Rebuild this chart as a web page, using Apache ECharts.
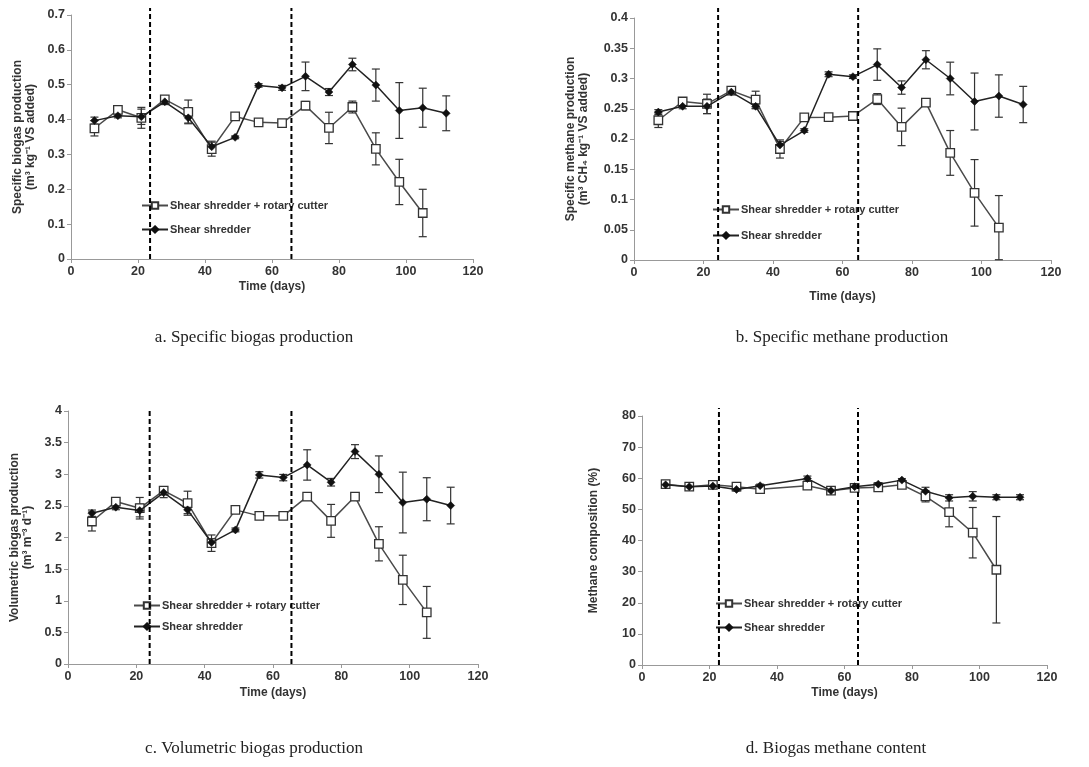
<!DOCTYPE html>
<html><head><meta charset="utf-8">
<script src="https://cdn.jsdelivr.net/npm/echarts@6/dist/echarts.min.js"></script>
<style>html,body{margin:0;padding:0;background:#fff}#c{width:1089px;height:767px}</style>
</head><body><div id="c"></div>
<script>
// ---------- data ----------
const days = [7,14,21,28,35,42,49,56,63,70,77,84,91,98,105,112];
const seriesNames = ['Shear shredder + rotary cutter', 'Shear shredder'];
const xTicks = {min:0, max:120, interval:20};

// a. Specific biogas production (m3 kg-1 VS added)
const aRotary    = [0.375,0.428,0.405,0.458,0.422,0.315,0.409,0.392,0.390,0.440,0.376,0.436,0.316,0.221,0.132,null];
const aRotaryErr = [0.022,0.006,0.030,0.008,0.034,0.020,0.005,0.005,0.005,0.012,0.045,0.017,0.046,0.065,0.068,null];
const aShear     = [0.397,0.411,0.408,0.451,0.405,0.322,0.349,0.498,0.491,0.524,0.479,0.558,0.499,0.426,0.434,0.418];
const aShearErr  = [0.010,0.006,0.022,0.008,0.015,0.016,0.004,0.005,0.007,0.041,0.010,0.018,0.046,0.080,0.056,0.050];

// b. Specific methane production (m3 CH4 kg-1 VS added)
const bRotary    = [0.231,0.262,0.258,0.280,0.265,0.1835,0.2357,0.236,0.238,0.266,0.220,0.260,0.177,0.111,0.0535,null];
const bRotaryErr = [0.012,0.004,0.016,0.004,0.014,0.015,0.003,0.003,0.003,0.009,0.031,0.004,0.037,0.055,0.053,null];
const bShear     = [0.2445,0.254,0.254,0.2775,0.254,0.190,0.214,0.307,0.303,0.323,0.285,0.331,0.300,0.262,0.271,0.257];
const bShearErr  = [0.004,0.004,0.012,0.004,0.004,0.006,0.003,0.004,0.003,0.026,0.011,0.015,0.027,0.047,0.035,0.030];

// c. Volumetric biogas production (m3 m-3 d-1)
const cRotary    = [2.253,2.568,2.463,2.742,2.542,1.910,2.437,2.342,2.342,2.647,2.263,2.647,1.900,1.330,0.816,null];
const cRotaryErr = [0.15,0.04,0.17,0.05,0.19,0.13,0.03,0.03,0.03,0.06,0.26,0.06,0.27,0.39,0.41,null];
const cShear     = [2.384,2.479,2.426,2.710,2.437,1.920,2.120,2.990,2.947,3.147,2.874,3.358,3.000,2.553,2.605,2.505];
const cShearErr  = [0.05,0.04,0.10,0.08,0.06,0.06,0.03,0.05,0.05,0.24,0.06,0.11,0.29,0.48,0.34,0.29];

// d. Biogas methane content (%)
const dRotary    = [58.1,57.3,57.9,57.3,56.5,null,57.6,56.0,56.9,57.1,57.9,54.2,49.1,42.5,30.6,null];
const dRotaryErr = [0.8,0.5,0.6,0.5,0.5,null,0.5,0.5,0.5,0.5,0.5,1.8,4.7,8.1,17.1,null];
const dShear     = [57.9,57.3,57.5,56.4,57.6,null,59.9,56.0,57.3,58.1,59.4,55.8,53.7,54.2,53.9,53.9];
const dShearErr  = [0.5,0.5,0.5,0.5,0.5,null,0.8,0.5,0.5,0.5,0.5,1.3,1.0,1.5,0.8,0.8];

// phase boundaries (days)
const aPhase = [23.6, 65.8];
const bPhase = [24.2, 64.5];
const cPhase = [23.9, 65.4];
const dPhase = [22.8, 64.0];

const captions = ['a. Specific biogas production','b. Specific methane production','c. Volumetric biogas production','d. Biogas methane content'];
const yNames = ['Specific biogas production\n(m³ kg⁻¹ VS added)','Specific methane production\n(m³ CH₄ kg⁻¹ VS added)','Volumetric biogas production\n(m³ m⁻³ d⁻¹)','Methane composition (%)'];
const yTicks = [{min:0,max:0.7,interval:0.1},{min:0,max:0.4,interval:0.05},{min:0,max:4,interval:0.5},{min:0,max:80,interval:10}];

// ---------- layout ----------
const FONT = '"Liberation Sans", Arial, sans-serif';
const SERIF = '"Liberation Serif", "Times New Roman", serif';
const TXT = '#333';
const panels = [
  {grid:{left:71, top:15, width:402, height:244}, rot:aRotary, rotE:aRotaryErr, sh:aShear, shE:aShearErr, phase:aPhase, ext:7, xGap:22, yGap:34, legend:{left:136, top:195, itemGap:13}, cap:[254,338]},
  {grid:{left:634, top:18, width:417, height:242}, rot:bRotary, rotE:bRotaryErr, sh:bShear, shE:bShearErr, phase:bPhase, ext:10, xGap:31, yGap:44, legend:{left:707, top:199, itemGap:15}, cap:[842,338]},
  {grid:{left:68, top:411, width:410, height:253}, rot:cRotary, rotE:cRotaryErr, sh:cShear, shE:cShearErr, phase:cPhase, ext:3, xGap:23, yGap:34, legend:{left:128, top:595, itemGap:10}, cap:[254,749]},
  {grid:{left:642, top:416, width:405, height:249}, rot:dRotary, rotE:dRotaryErr, sh:dShear, shE:dShearErr, phase:dPhase, ext:8, xGap:22, yGap:42, legend:{left:710, top:593, itemGap:13}, cap:[836,749]}
];

function pts(vals){ return days.map((d,i)=>[d, vals[i]]).filter(p=>p[1]!=null); }
function errPts(vals, errs){ return days.map((d,i)=>vals[i]==null||errs[i]==null?null:[d, vals[i]-errs[i], vals[i]+errs[i]]).filter(p=>p); }

function errRender(params, api){
  const x = api.value(0);
  const lo = api.coord([x, api.value(1)]);
  const hi = api.coord([x, api.value(2)]);
  const w = 4;
  const st = {stroke:'#333', lineWidth:1.2};
  return {type:'group', children:[
    {type:'line', shape:{x1:lo[0],y1:lo[1],x2:hi[0],y2:hi[1]}, style:st},
    {type:'line', shape:{x1:lo[0]-w,y1:lo[1],x2:lo[0]+w,y2:lo[1]}, style:st},
    {type:'line', shape:{x1:hi[0]-w,y1:hi[1],x2:hi[0]+w,y2:hi[1]}, style:st}
  ]};
}
function phaseRenderFor(ext){
  return function(params, api){
    const x = api.value(0);
    const b = api.coord([x, api.value(1)]);
    const t = api.coord([x, api.value(2)]);
    return {type:'line', shape:{x1:b[0], y1:b[1], x2:t[0], y2:t[1]-ext},
      style:{stroke:'#000', lineWidth:2, lineDash:[5,3]}};
  };
}

const option = {animation:false, grid:[], xAxis:[], yAxis:[], series:[], legend:[], graphic:[]};
panels.forEach((p, i) => {
  const yt = yTicks[i];
  option.grid.push(p.grid);
  option.xAxis.push({
    gridIndex:i, type:'value', min:xTicks.min, max:xTicks.max, interval:xTicks.interval,
    axisLine:{show:true, lineStyle:{color:'#999', width:1}},
    axisTick:{show:true, length:4, lineStyle:{color:'#999'}},
    splitLine:{show:false},
    axisLabel:{color:TXT, fontWeight:'bold', fontSize:12.5, fontFamily:FONT, margin:6},
    name:'Time (days)', nameLocation:'middle', nameGap:p.xGap,
    nameTextStyle:{color:TXT, fontWeight:'bold', fontSize:12, fontFamily:FONT}
  });
  option.yAxis.push({
    gridIndex:i, type:'value', min:yt.min, max:yt.max, interval:yt.interval,
    axisLine:{show:true, lineStyle:{color:'#999', width:1}},
    axisTick:{show:true, length:4, lineStyle:{color:'#999'}},
    splitLine:{show:false},
    axisLabel:{color:TXT, fontWeight:'bold', fontSize:12.5, fontFamily:FONT, margin:6},
    name:yNames[i], nameLocation:'middle', nameGap:p.yGap, nameRotate:90,
    nameTextStyle:{color:TXT, fontWeight:'bold', fontSize:12, fontFamily:FONT, lineHeight:13, align:'center'}
  });
  option.series.push({
    name:'phase-'+i, type:'custom', xAxisIndex:i, yAxisIndex:i, renderItem:phaseRenderFor(p.ext),
    data:p.phase.map(v=>[v, yt.min, yt.max]), z:5, silent:true, clip:false, encode:{x:0, y:[1,2]}
  });
  option.series.push({
    name:'err-rot-'+i, type:'custom', xAxisIndex:i, yAxisIndex:i, renderItem:errRender,
    data:errPts(p.rot, p.rotE), z:2, silent:true, encode:{x:0, y:[1,2]}
  });
  option.series.push({
    name:'err-sh-'+i, type:'custom', xAxisIndex:i, yAxisIndex:i, renderItem:errRender,
    data:errPts(p.sh, p.shE), z:2, silent:true, encode:{x:0, y:[1,2]}
  });
  option.series.push({
    name:seriesNames[0], type:'line', xAxisIndex:i, yAxisIndex:i, data:pts(p.rot), z:3,
    symbol:'rect', symbolSize:8.5, showAllSymbol:true,
    itemStyle:{color:'#fff', borderColor:'#333', borderWidth:1.3},
    lineStyle:{color:'#4a4a4a', width:1.5}, emphasis:{disabled:true}
  });
  option.series.push({
    name:seriesNames[1], type:'line', xAxisIndex:i, yAxisIndex:i, data:pts(p.sh), z:4,
    symbol:'diamond', symbolSize:8, showAllSymbol:true,
    itemStyle:{color:'#111', borderColor:'#111', borderWidth:0.5},
    lineStyle:{color:'#222', width:1.5}, emphasis:{disabled:true}
  });
  option.legend.push({
    data:seriesNames, orient:'vertical', left:p.legend.left, top:p.legend.top, itemGap:p.legend.itemGap,
    itemWidth:26, itemHeight:8, selectedMode:false,
    textStyle:{color:TXT, fontWeight:'bold', fontSize:11, fontFamily:FONT, padding:[0,0,0,-3]}
  });
  option.graphic.push({type:'text', x:p.cap[0], y:p.cap[1], silent:true,
    style:{text:captions[i], fill:'#222', font:'17px '+SERIF, textAlign:'center', textVerticalAlign:'middle'}});
});

const chart = echarts.init(document.getElementById('c'), null, {renderer:'canvas'});
chart.setOption(option);
</script></body></html>
